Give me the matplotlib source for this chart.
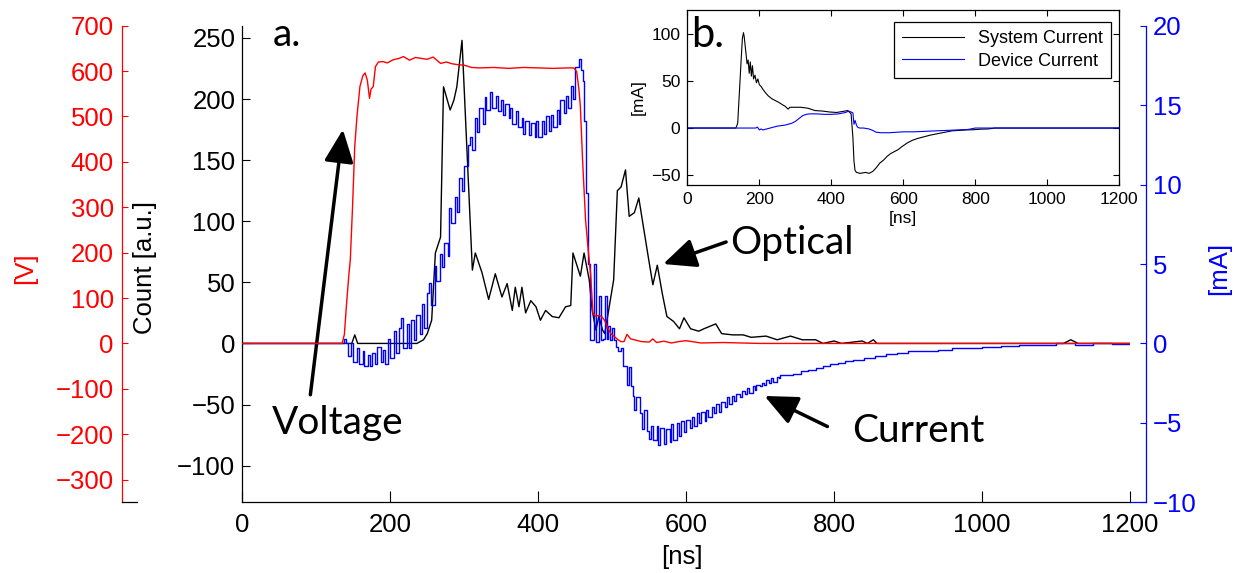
import matplotlib.pyplot as plt
import numpy as np

plt.rcParams['font.family'] = ['Liberation Sans', 'DejaVu Sans']
plt.rcParams['axes.linewidth'] = 0.9

# ---- main panel (a) ----
# applied voltage [V]
t_volt = [0, 135, 138, 141, 144, 146, 149, 152, 155, 159, 163, 166, 169, 172, 174,
          177, 180, 184, 190, 196, 204, 212, 218, 226, 234, 242, 250, 258, 268, 276,
          284, 292, 300, 310, 320, 340, 360, 380, 400, 420, 440, 448, 452, 455, 457,
          460, 464, 468, 471, 474, 478, 482, 486, 490, 494, 498, 503, 508, 512, 516,
          520, 525, 530, 540, 550, 555, 560, 570, 580, 590, 600, 620, 650, 700, 800, 1200]
volt = [0, 0, 20, 89, 150, 184, 300, 434, 500, 566, 590, 596, 580, 540, 560,
        566, 610, 620, 621, 618, 625, 628, 632, 624, 630, 628, 626, 631, 617, 620,
        616, 614, 613, 608, 607, 608, 606, 608, 607, 606, 607, 607, 599, 560, 522,
        404, 272, 199, 150, 66, 60, 62, 59, 50, 35, 22, 15, 8, 4, 4,
        20, 10, 8, 4, 3, 10, 2, 5, 1, 4, 6, 1, 2, 0, 0, 0]

# optical counts [a.u.]
t_count = [0, 148, 152, 156, 236, 245, 250, 256, 261, 268, 272, 281, 286, 290, 297,
           311, 315, 324, 333, 342, 351, 358, 365, 369, 374, 378, 383, 390, 397, 403,
           410, 419, 428, 437, 444, 447, 457, 462, 469, 473, 478, 482, 487, 490, 496,
           502, 507, 512, 518, 523, 530, 536, 541, 549, 555, 561, 568, 574, 583, 591,
           597, 606, 617, 624, 640, 648, 663, 677, 688, 708, 723, 741, 757, 775, 785,
           800, 810, 838, 845, 853, 858, 1110, 1120, 1130, 1200]
count = [0, 0, 7, 0, 0, 3, 8, 19, 74, 87, 210, 191, 199, 210, 248,
         60, 74, 58, 36, 57, 38, 49, 27, 46, 30, 46, 25, 35, 30, 19,
         27, 22, 21, 30, 31, 74, 55, 74, 52, 27, 11, 22, 11, 8, 30,
         52, 125, 128, 142, 104, 107, 119, 100, 70, 48, 64, 40, 22, 18, 12,
         21, 12, 10, 12, 16, 8, 7, 7, 5, 6, 3, 6, 3, 3, 0,
         2, 0, 2, 0, 3, 0, 0, 3, 0, 0]

# device current [mA]: scope record every 2.5 ns from 130 ns, one row per 25 ns
cur_fast = [
    0, 0, 0, 0.3, 0, -0.8, -0.8, 0, -1.2, -1.2,
    -0.3, -1.3, -1.3, -0.5, -1.4, -1.4, -0.7, -1.4, -0.6, -0.6,
    -1.3, -0.2, -0.2, -1.2, -0.4, -1.3, -1.3, 0.3, -0.9, -0.9,
    0.8, -0.6, -0.6, 1.0, 1.6, -0.3, -0.3, 1.2, -0.3, 1.5,
    1.5, 0.2, 1.8, 1.8, 0.6, 2.5, 1.0, 1.0, 3.2, 3.8,
    2.4, 2.4, 4.9, 3.9, 3.9, 5.6, 4.8, 6.3, 6.3, 5.5,
    8.5, 7.6, 7.6, 9.2, 8.3, 10.4, 10.4, 9.6, 11.2, 11.2,
    12.5, 13.0, 12.2, 12.2, 14.2, 13.3, 14.8, 14.8, 13.8, 15.5,
    14.7, 14.7, 15.8, 14.8, 14.8, 15.6, 14.6, 14.6, 15.3, 14.4,
    15.1, 15.1, 14.2, 14.8, 13.8, 13.8, 14.6, 13.6, 13.6, 14.2,
    13.2, 14.0, 14.0, 13.1, 13.9, 13.9, 13.0, 14.0, 13.0, 13.0,
    14.0, 13.2, 14.3, 14.3, 13.4, 14.4, 13.6, 13.6, 14.7, 13.8,
    15.3, 15.3, 14.5, 15.6, 14.8, 14.8, 16.2, 15.4, 17.4, 17.4,
    17.9, 17.2, 16.5, 14.0, 9.5, 5.0, 0.2, 0.2, 5.0, 0.1,
    0.1, 3.0, 0.2, 0.3, 3.0, 0.3, 1.1, 0.2, 1.0, 0.2,
    -0.2, -0.5, -0.5, -0.3, -1.4, -1.4, -2.6, -1.5, -2.7, -3.3,
    -4.2, -3.4, -3.4, -4.4, -5.4, -4.2, -4.2, -5.5, -6.0, -5.2,
    -6.1, -6.1, -5.2, -6.4, -5.3, -5.3, -6.3, -5.4, -5.4, -6.2,
    -5.1, -6.1, -6.1, -5.0, -5.8, -4.9, -4.9, -5.6, -4.8, -4.8,
    -5.3, -4.6, -5.2, -5.2, -4.4, -5.0, -4.3, -4.3, -4.9, -4.2,
    -4.6, -4.6, -4.0, -4.4, -3.8, -3.8, -4.3, -3.7, -3.7, -4.0,
    -3.4, -3.8, -3.8, -3.3, -3.6, -3.2, -3.2, -3.4, -3.0, -3.0,
    -3.2, -2.8, -3.1, -3.1, -2.7, -2.9, -2.6, -2.6, -2.7, -2.5,
    -2.6, -2.3, -2.3, -2.5, -2.2, -2.4, -2.4, -2.1, -2.2, -2.0,
]
# slow recovery after 730 ns
t_cur_tail = [735, 745, 755, 765, 775, 785, 795, 805, 815, 825, 840, 855, 870, 885,
              900, 920, 940, 960, 980, 1000, 1025, 1050, 1075, 1100, 1125, 1150, 1175, 1200]
cur_tail = [-2.0, -1.9, -1.75, -1.7, -1.55, -1.45, -1.3, -1.25, -1.1, -1.05, -0.9, -0.8,
            -0.65, -0.6, -0.5, -0.45, -0.4, -0.3, -0.3, -0.2, -0.15, -0.1, -0.1, 0,
            -0.1, 0, -0.05, 0]

t_cur = np.concatenate([[0], np.arange(130, 730, 2.5), t_cur_tail])
cur = np.concatenate([[0], cur_fast, cur_tail])

# ---- inset (b) ----
t_sys = [0, 135, 140, 145, 150, 153, 156, 158, 163, 166, 169, 172, 175, 178, 181,
         184, 188, 192, 196, 200, 205, 210, 218, 225, 235, 245, 255, 265, 272, 280,
         285, 295, 315, 335, 355, 375, 395, 415, 435, 445, 450, 455, 460, 463, 466,
         470, 480, 495, 505, 515, 525, 535, 545, 555, 565, 575, 585, 595, 610, 625,
         640, 655, 675, 695, 715, 735, 755, 775, 795, 815, 835, 855, 1200]
i_sys = [0, 0, 5, 40, 75, 95, 101, 97, 79, 68, 72, 58, 70, 55, 66,
         52, 56, 48, 52, 46, 44, 41, 37, 34, 31, 29, 27, 24.5, 23, 20,
         22, 22, 22, 21, 18.5, 18, 17, 16.5, 17.8, 18.5, 17, 15, -10, -35, -45,
         -47, -48, -47, -48, -46, -42, -37, -34, -30, -27, -25, -23, -20, -16, -13,
         -11, -9.5, -7.5, -6, -4.5, -3, -2.5, -2, -1.8, -1.2, -1, 0, 0]
t_dev = [0, 190, 195, 200, 205, 210, 220, 230, 240, 250, 260, 270, 280, 290, 300,
         310, 320, 330, 340, 360, 380, 400, 420, 440, 448, 455, 460, 463, 466, 470,
         473, 478, 490, 505, 515, 525, 540, 560, 580, 600, 630, 660, 690, 720, 750,
         780, 800, 1200]
i_dev = [0, 0, 1, -2, -1, -2, -1, 0, 1, 2, 2.5, 3, 4, 5, 7,
         10, 13, 14.5, 15, 15, 14.5, 14.5, 15, 16.5, 18, 17, 16, 4, 8, 3,
         1, 0, 0, -1, -2.5, -4.5, -5, -5, -4.5, -4, -4, -3.5, -3, -2.5, -2,
         -1.5, 0, 0]

x_ticks = np.arange(0, 1201, 200)

W, H = 1235, 573
fig = plt.figure(figsize=(W / 100, H / 100), dpi=100)

bot, hgt = (H - 502.3) / H, (502.3 - 25.7) / H
ax = fig.add_axes([242.3 / W, bot, (1130 - 242.3) / W, hgt])
ax_i = ax.twinx()
ax_v = ax.twinx()

ax_i.plot(t_cur, cur, color='#0000ff', lw=1.0, drawstyle='steps-post')
ax.plot(t_count, count, color='k', lw=1.0)
ax_v.plot(t_volt, volt, color='#ff0000', lw=1.0)

ax.set_xlim(0, 1200)
ax.set_ylim(-130, 260)
ax_i.set_ylim(-10, 20)
ax_v.set_ylim(-350, 700)
ax_i.axis('off')
ax_v.axis('off')
ax.set_zorder(1)
ax_i.set_zorder(2)
ax_v.set_zorder(3)
ax.patch.set_visible(False)

ax.spines[['top', 'right']].set_visible(False)
ax.set_xticks(x_ticks)
ax.set_yticks(np.arange(-100, 251, 50))
ax.tick_params(axis='x', direction='in', length=8, labelsize=18.5, pad=8)
ax.tick_params(axis='y', direction='in', length=6, labelsize=18.5, pad=5)

# separate rulers for the voltage and current scales
rv = fig.add_axes([122 / W, bot, 15 / W, hgt])
rv.set_ylim(-350, 700)
rv.set_xticks([])
rv.set_yticks(np.arange(-300, 701, 100))
rv.spines[['top', 'right']].set_visible(False)
rv.spines['left'].set_color('#ff0000')
rv.patch.set_visible(False)
rv.tick_params(axis='y', direction='in', length=4, labelsize=18.5, pad=6,
               color='#ff0000', labelcolor='#ff0000')

ri = fig.add_axes([1130 / W, bot, 16 / W, hgt])
ri.set_ylim(-10, 20)
ri.set_xticks([])
ri.set_yticks(np.arange(-10, 21, 5))
ri.yaxis.tick_right()
ri.spines[['top', 'left']].set_visible(False)
ri.spines['right'].set_color('#0000ff')
ri.spines['bottom'].set_color('#0000ff')
ri.patch.set_visible(False)
ri.tick_params(axis='y', direction='in', length=4, labelsize=18.5, pad=5,
               color='#0000ff', labelcolor='#0000ff')

fig.text(25 / W, 1 - 268 / H, '[V]', color='#ff0000', fontsize=18.5,
         rotation=90, ha='center', va='center')
fig.text(145 / W, 1 - 267 / H, 'Count [a.u.]', color='k', fontsize=18.5,
         rotation=90, ha='center', va='center')
fig.text(1219 / W, 1 - 268 / H, '[mA]', color='#0000ff', fontsize=18.5,
         rotation=90, ha='center', va='center')
fig.text(682 / W, 1 - 557 / H, '[ns]', color='k', fontsize=18.5,
         ha='center', va='center')

# annotations
big = dict(family=['Lato', 'DejaVu Sans'], fontsize=28, color='k', zorder=10)
ax.text(41, 243, 'a.', ha='left', va='baseline', **big)
ax.text(40, -74, 'Voltage', ha='left', va='baseline', **big)
ax.text(660, 73, 'Optical', ha='left', va='baseline', **big)
ax.text(824, -81, 'Current', ha='left', va='baseline', **big)

arrow = dict(arrowstyle='-|>,head_length=1.0,head_width=0.45', lw=2.5,
             color='k', shrinkA=0, shrinkB=0, mutation_scale=20)
ax.annotate('', xy=(136, 175), xytext=(92, -42), arrowprops=arrow, zorder=10)
ax.annotate('', xy=(569, 65), xytext=(654, 83), arrowprops=arrow, zorder=10)
ax.annotate('', xy=(706, -43), xytext=(791, -68), arrowprops=arrow, zorder=10)

# inset panel
axin = fig.add_axes([687.3 / W, (H - 184.7) / H, 432 / W, 174.7 / H])
axin.set_zorder(20)
axin.plot(t_sys, i_sys, color='k', lw=0.8, label='System Current')
axin.plot(t_dev, i_dev, color='#0000ff', lw=0.8, label='Device Current')
axin.set_xlim(0, 1200)
axin.set_ylim(-60, 125)
axin.set_xticks(x_ticks)
axin.set_yticks([-50, 0, 50, 100])
axin.tick_params(direction='in', top=True, right=True, length=4,
                 labelsize=12.5, pad=5)
axin.set_xlabel('[ns]', fontsize=12.5, labelpad=3)
axin.set_ylabel('[mA]', fontsize=12.5, labelpad=4)
axin.text(0.010, 0.79, 'b.', transform=axin.transAxes, ha='left', va='baseline',
          family=['Lato', 'DejaVu Sans'], fontsize=30)
leg = axin.legend(loc='upper right', bbox_to_anchor=(0.981, 0.931), borderaxespad=0,
                  fontsize=13, fancybox=False, edgecolor='k', framealpha=1,
                  handlelength=3.4, labelspacing=0.3, borderpad=0.45)
leg.get_frame().set_linewidth(0.9)

fig.savefig('out.png', dpi=100)
